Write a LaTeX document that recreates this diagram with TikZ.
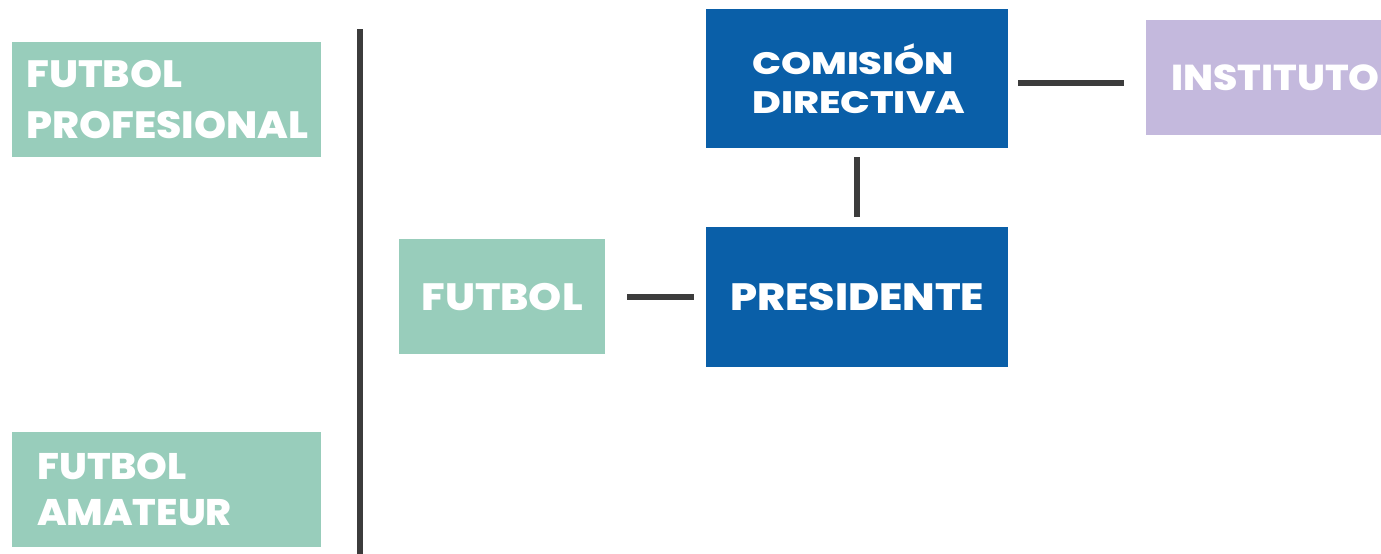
\documentclass[tikz,border=0pt]{standalone}
\usepackage{fontspec}
\setmainfont{Poppins}[BoldFont={Poppins ExtraBold}]
\definecolor{fgreen}{HTML}{98CDBB}
\definecolor{fblue}{HTML}{0A5FA8}
\definecolor{fpurple}{HTML}{C4B9DD}
\definecolor{fline}{HTML}{3C3C3C}
\newcommand{\wx}[2]{\scalebox{#1}[1]{#2}}
\begin{document}
\begin{tikzpicture}[x=1pt,y=-1pt,
  box/.style={rectangle, anchor=north west, inner sep=0pt, text=white,
    font=\bfseries\fontsize{38}{46}\selectfont},
  conn/.style={draw=fline, line width=6pt}]
\useasboundingbox (0,0) rectangle (1381,554);
\fill[white] (0,0) rectangle (1381,554);
% boxes
\node[box, fill=fgreen, minimum width=309pt, minimum height=115pt,
  text width=281pt, inner xsep=14pt, align=left,
  font=\bfseries\fontsize{38}{51}\selectfont] (prof) at (12,42) {\wx{1.074}{FUTBOL}\\\wx{1.074}{PROFESIONAL}};
\node[box, fill=fgreen, minimum width=309pt, minimum height=115pt,
  text width=259pt, inner xsep=25pt, align=left,
  font=\bfseries\fontsize{37}{46}\selectfont] (amat) at (12,432) {\wx{1.058}{FUTBOL}\\\wx{1.058}{AMATEUR}};
\node[box, fill=fgreen, minimum width=206pt, minimum height=115pt] (futbol) at (399,239) {\wx{1.11}{FUTBOL}};
\node[box, fill=fblue, minimum width=302pt, minimum height=140pt] (pres) at (706,227) {\wx{1.12}{PRESIDENTE}};
\node[box, fill=fblue, minimum width=302pt, minimum height=139pt,
  text width=210pt, inner xsep=46pt, align=left,
  font=\bfseries\fontsize{31}{39}\selectfont] (com) at (706,9) {\wx{1.235}{COMISIÓN}\\\wx{1.265}{DIRECTIVA}};
\node[box, fill=fpurple, minimum width=254pt, minimum height=115pt,
  text width=204pt, inner xsep=25pt, align=left,
  font=\bfseries\fontsize{36}{44}\selectfont] (inst) at (1146,20) {\wx{1.09}{INSTITUTO}};
% divider
\coordinate (dtop) at (360,29);
\coordinate (dbot) at (360,560);
\draw[conn] (dtop) -- (dbot);
% connectors
\draw[conn, shorten <=9pt, shorten >=10pt] (com.south) -- (com.south |- pres.north);
\draw[conn, shorten <=22pt, shorten >=12pt] (futbol.east) -- (futbol.east -| pres.west);
\draw[conn, shorten <=10pt, shorten >=22pt] ([yshift=-4.5pt]com.east) -- ([yshift=-4.5pt]com.east -| inst.west);
\end{tikzpicture}
\end{document}
